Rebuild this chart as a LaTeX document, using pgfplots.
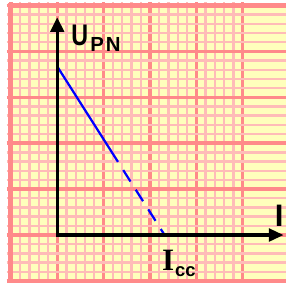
\documentclass[border=0pt]{standalone}
\usepackage{graphicx}
\usepackage{pgfplots}
\pgfplotsset{compat=1.18}
\usetikzlibrary{arrows.meta}
\usepackage{fontspec}
\setmainfont{Liberation Sans}
\newfontfamily\seriffont{Liberation Serif}
\definecolor{paper}{RGB}{255,255,188}
\definecolor{majorc}{RGB}{255,138,138}
\definecolor{minorc}{RGB}{255,188,184}
\begin{document}
\begin{tikzpicture}
\begin{axis}[
  set layers,
  scale only axis, width=288pt, height=289pt,
  xmin=-1.09, xmax=4.94, ymin=-1.03, ymax=5.08,
  xtick={-1,0,...,4}, ytick={-1,0,...,5},
  minor tick num=4,
  grid=both,
  major grid style={draw=majorc, line width=3.5pt},
  minor grid style={draw=minorc, line width=2.4pt},
  xticklabels={}, yticklabels={},
  major tick length=0pt, minor tick length=0pt,
  axis line style={draw=none},
  clip=false,
]
\begin{pgfonlayer}{axis background}
\fill[paper] (axis cs:-1,-1) rectangle (axis cs:4.94,5);
\end{pgfonlayer}
\draw[majorc, line width=5pt] (axis cs:-1,-1) -- (axis cs:-1,5) -- (axis cs:4.94,5);
\draw[majorc, line width=5pt] (axis cs:-1,-1) -- (axis cs:4.94,-1);
% data line
\addplot[blue, line width=2.3pt] coordinates {(0,3.67) (1.31,1.593)};
\addplot[blue, line width=2.3pt, dash pattern=on 14pt off 10pt, dash phase=14pt] coordinates {(1.31,1.593) (2.315,0)};
% axes
\draw[line width=3.2pt, line join=miter, {Triangle[length=15pt,width=14pt]}-{Triangle[length=15pt,width=13pt]}] (axis cs:0,4.74) -- (axis cs:0,0) -- (axis cs:4.88,0);
% labels
\node[anchor=base west, inner sep=0pt] at (axis cs:0.30,4.12) {\fontsize{30.7}{32}\selectfont\bfseries\scalebox{0.78}[1]{U}};
\node[anchor=base west, inner sep=0pt] at (axis cs:0.71,3.99) {\fontsize{21}{22}\selectfont\bfseries P\kern2pt N};
\node[anchor=base west, inner sep=0pt] at (axis cs:4.69,0.18) {\fontsize{32}{34}\selectfont\bfseries I};
\node[anchor=base west, inner sep=0pt] at (axis cs:2.26,-0.77) {\seriffont\fontsize{32}{34}\selectfont\bfseries I};
\node[anchor=base west, inner sep=0pt] at (axis cs:2.54,-0.90) {\fontsize{19}{20}\selectfont\bfseries cc};
\end{axis}
\end{tikzpicture}
\end{document}
